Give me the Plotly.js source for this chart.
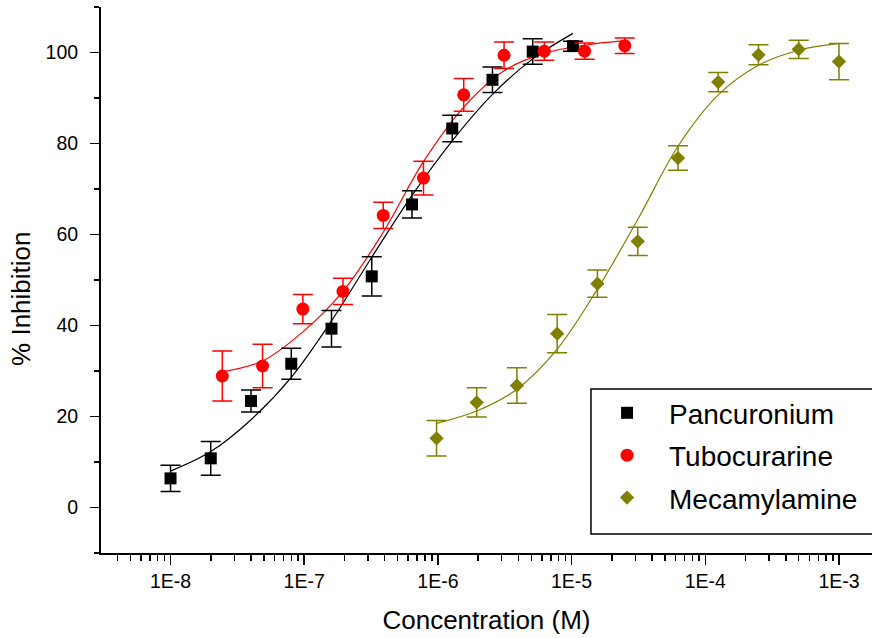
<!DOCTYPE html>
<html>
<head>
<meta charset="utf-8">
<script src="https://cdn.plot.ly/plotly-3.0.1.min.js"></script>
<style>html,body{margin:0;padding:0;background:#fff;}#chart{width:872px;height:638px;}</style>
</head>
<body>
<div id="chart"></div>
<script>
// ---- Data ----
var pancuroniumConc = [1e-8, 2e-8, 4e-8, 8e-8, 1.6e-7, 3.2e-7, 6.4e-7, 1.28e-6, 2.56e-6, 5.12e-6, 1.024e-5];
var pancuroniumMean = [6.4, 10.8, 23.4, 31.6, 39.3, 50.8, 66.6, 83.3, 94.0, 100.2, 101.4];
var pancuroniumErr  = [2.9, 3.7, 2.4, 3.4, 4.0, 4.3, 3.0, 2.9, 2.8, 2.8, 1.1];
var pancuroniumFit  = [8.0, 12.3, 19.3, 28.6, 41.0, 55.0, 68.6, 80.6, 90.8, 98.6, 104.2];

var tubocurarineConc = [2.44e-8, 4.88e-8, 9.77e-8, 1.95e-7, 3.9e-7, 7.8e-7, 1.56e-6, 3.125e-6, 6.25e-6, 1.25e-5, 2.5e-5];
var tubocurarineMean = [28.9, 31.1, 43.6, 47.5, 64.2, 72.4, 90.7, 99.4, 100.3, 100.3, 101.5];
var tubocurarineErr  = [5.5, 4.8, 3.2, 2.9, 2.9, 3.7, 3.6, 2.9, 2.0, 1.8, 1.7];
var tubocurarineFit  = [29.8, 32.2, 38.6, 47.5, 60.5, 76.0, 88.0, 96.0, 99.8, 101.6, 102.6];

var mecamylamineConc = [9.77e-7, 1.95e-6, 3.9e-6, 7.8e-6, 1.56e-5, 3.125e-5, 6.25e-5, 1.25e-4, 2.5e-4, 5e-4, 1e-3];
var mecamylamineMean = [15.2, 23.1, 26.8, 38.2, 49.2, 58.5, 76.8, 93.5, 99.5, 100.7, 98.0];
var mecamylamineErr  = [3.9, 3.2, 3.9, 4.2, 3.0, 3.1, 2.7, 2.1, 2.2, 2.0, 4.0];
var mecamylamineFit  = [18.5, 21.2, 26.0, 34.8, 48.0, 63.3, 79.4, 90.7, 97.2, 100.5, 102.0];

var seriesNames = ['Pancuronium', 'Tubocurarine', 'Mecamylamine'];
var xTickVals = [1e-8, 1e-7, 1e-6, 1e-5, 1e-4, 1e-3];
var xTickText = ['1E-8', '1E-7', '1E-6', '1E-5', '1E-4', '1E-3'];
var yTickVals = [0, 20, 40, 60, 80, 100];

// ---- Styling ----
var BLACK = '#000000', RED = '#ff0000', OLIVE = '#808000';
var FONT = 'Liberation Sans, Arial, sans-serif';

var minorVals = [];
for (var d = -9; d <= -3; d++) {
  for (var m = 2; m <= 9; m++) minorVals.push(m * Math.pow(10, d));
}

function fitTrace(x, y, color) {
  return {x: x, y: y, type: 'scatter', mode: 'lines',
    line: {color: color, width: 1.2, shape: 'spline', smoothing: 1},
    showlegend: false, hoverinfo: 'skip'};
}
function dataTrace(name, x, y, err, color, symbol, size) {
  return {x: x, y: y, name: name, type: 'scatter', mode: 'markers', legendgroup: name,
    marker: {color: color, symbol: symbol, size: size, line: {width: 0}},
    error_y: {type: 'data', array: err, visible: true, color: color, thickness: 1.5, width: 10}};
}

var traces = [
  fitTrace(pancuroniumConc, pancuroniumFit, BLACK),
  fitTrace(tubocurarineConc, tubocurarineFit, RED),
  fitTrace(mecamylamineConc, mecamylamineFit, OLIVE),
  dataTrace(seriesNames[0], pancuroniumConc, pancuroniumMean, pancuroniumErr, BLACK, 'square', 12),
  dataTrace(seriesNames[1], tubocurarineConc, tubocurarineMean, tubocurarineErr, RED, 'circle', 13),
  dataTrace(seriesNames[2], mecamylamineConc, mecamylamineMean, mecamylamineErr, OLIVE, 'diamond', 11)
];

var layout = {
  width: 872, height: 638,
  margin: {l: 101, r: 0, t: 7, b: 85},
  paper_bgcolor: '#fff', plot_bgcolor: '#fff',
  font: {family: FONT, color: '#000'},
  showlegend: true,
  legend: {x: 0.6278, y: 0.302, xanchor: 'left', yanchor: 'top',
    bgcolor: 'rgba(0,0,0,0)', borderwidth: 0, itemwidth: 74, tracegroupgap: 3,
    font: {family: FONT, size: 28, color: '#000'}},
  xaxis: {
    type: 'log', range: [-8.52, -2.753],
    tickmode: 'array', tickvals: xTickVals, ticktext: xTickText,
    ticks: 'outside', ticklen: 10, tickwidth: 1.5, tickcolor: '#000',
    ticklabelstandoff: 0,
    minor: {tickmode: 'array', tickvals: minorVals, ticks: 'outside', ticklen: 6, tickwidth: 1.5, tickcolor: '#000'},
    showline: true, linecolor: '#000', linewidth: 2, mirror: false,
    showgrid: false, zeroline: false,
    tickfont: {family: FONT, size: 19.5, color: '#000'},
    title: {text: 'Concentration (M)', font: {family: FONT, size: 26, color: '#000'}, standoff: 19},
    automargin: false
  },
  yaxis: {
    range: [-10, 110],
    tickmode: 'array', tickvals: yTickVals,
    ticks: 'outside', ticklen: 9, tickwidth: 1.5, tickcolor: '#000',
    ticklabelstandoff: 8,
    minor: {dtick: 10, ticks: 'outside', ticklen: 5, tickwidth: 1.5, tickcolor: '#000'},
    showline: true, linecolor: '#000', linewidth: 2, mirror: false,
    showgrid: false, zeroline: false,
    tickfont: {family: FONT, size: 19.5, color: '#000'},
    automargin: false
  },
  shapes: [{type: 'rect', xref: 'paper', yref: 'paper', x0: 0.6355, x1: 1.05, y0: 0.0348, y1: 0.3004,
    line: {color: '#000', width: 1.5}, fillcolor: 'rgba(0,0,0,0)', layer: 'above'}],
  annotations: [{text: '% Inhibition', xref: 'paper', yref: 'paper', x: -0.104, y: 0.465,
    xanchor: 'center', yanchor: 'middle', textangle: -90, showarrow: false,
    font: {family: FONT, size: 26, color: '#000'}}]
};

Plotly.newPlot('chart', traces, layout, {displayModeBar: false, staticPlot: true});
</script>
</body>
</html>
